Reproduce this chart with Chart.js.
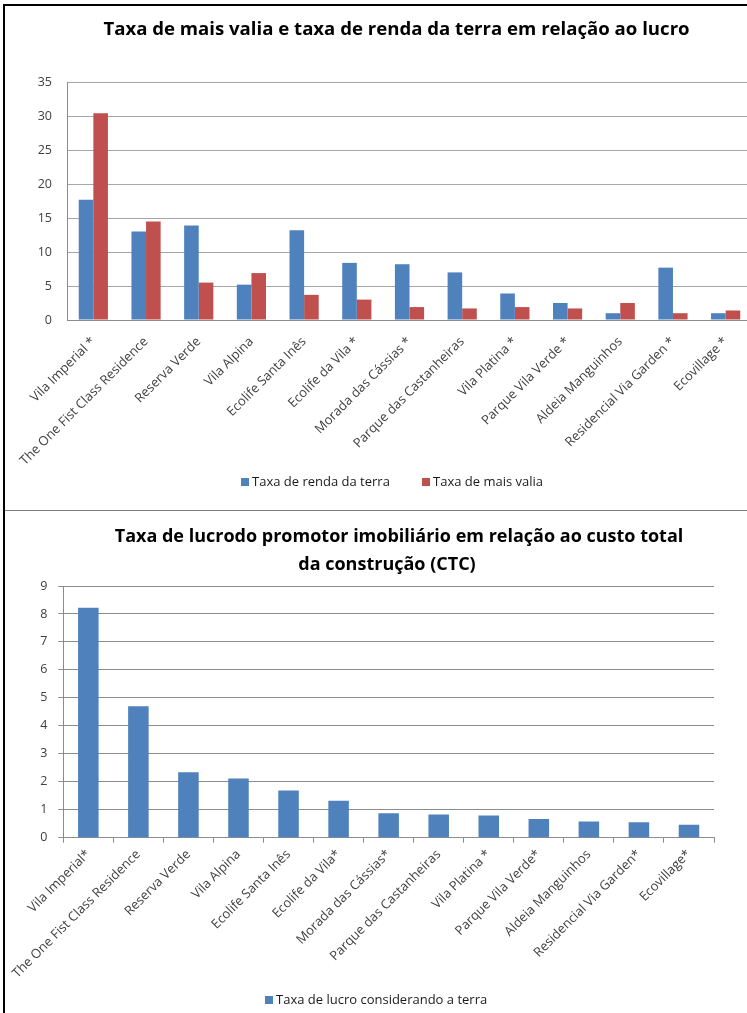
<!DOCTYPE html>
<html><head><meta charset="utf-8">
<script src="https://cdn.jsdelivr.net/npm/chart.js@4.4.1/dist/chart.umd.min.js"></script>
<style>
html,body{margin:0;padding:0;background:#fff;overflow:hidden;width:747px;height:1013px;}
#wrap{position:relative;width:747px;height:1013px;overflow:hidden;background:#fff;}
#c1box{position:absolute;left:0;top:0;width:760px;height:510px;}
#c2box{position:absolute;left:0;top:511px;width:747px;height:502px;}
.fl{position:absolute;background:#000;}
</style></head><body>
<div id="wrap">
<div id="c1box"><canvas id="c1" width="760" height="510"></canvas></div>
<div id="c2box"><canvas id="c2" width="747" height="502"></canvas></div>
<div class="fl" style="left:3px;top:4px;width:2px;height:1009px"></div>
<div class="fl" style="left:3px;top:4px;width:744px;height:2px"></div>
<div style="position:absolute;left:5px;top:510px;width:742px;height:1px;background:#7f7f7f"></div>
</div>
<script>
// ---------- data ----------
const categoriesTop = ["Vila Imperial *","The One Fist Class Residence","Reserva Verde","Vila Alpina","Ecolife Santa Inês","Ecolife da Vila *","Morada das Cássias *","Parque das Castanheiras","Vila Platina *","Parque Vila Verde *","Aldeia Manguinhos","Residencial Via Garden *","Ecovillage *"];
const rendaTerra = [17.7, 13.0, 13.9, 5.2, 13.2, 8.4, 8.2, 7.0, 3.9, 2.5, 1.0, 7.7, 1.0];
const maisValia  = [30.4, 14.5, 5.5, 6.9, 3.7, 3.0, 1.9, 1.7, 1.9, 1.7, 2.5, 1.0, 1.4];
const topSeriesNames = ["Taxa de renda da terra", "Taxa de mais valia"];
const topTitle = ["Taxa de mais valia e taxa de renda da terra em relação ao lucro"];
const topTicks = [0, 5, 10, 15, 20, 25, 30, 35];

const categoriesBottom = ["Vila Imperial*","The One Fist Class Residence","Reserva Verde","Vila Alpina","Ecolife Santa Inês","Ecolife da Vila*","Morada das Cássias*","Parque das Castanheiras","Vila Platina *","Parque Vila Verde*","Aldeia Manguinhos","Residencial Via Garden*","Ecovillage*"];
const taxaLucro = [8.22, 4.70, 2.34, 2.12, 1.69, 1.32, 0.87, 0.83, 0.79, 0.67, 0.58, 0.55, 0.46];
const bottomSeriesNames = ["Taxa de lucro considerando a terra"];
const bottomTitle = ["Taxa de lucrodo promotor imobiliário em relação ao custo total", "da construção (CTC)"];
const bottomTicks = [0, 1, 2, 3, 4, 5, 6, 7, 8, 9];

// ---------- styles ----------
const BLUE = '#4F81BD', RED = '#C0504D';
const FONT = '"Open Sans", Lato, sans-serif';

const decor = {
  id: 'decor',
  afterDraw(chart, args, o) {
    const ctx = chart.ctx;
    ctx.save();
    ctx.fillStyle = '#000';
    ctx.textBaseline = 'middle';
    ctx.textAlign = 'center';
    ctx.font = 'bold ' + o.titleSize + 'px ' + FONT;
    o.titleLines.forEach((t, i) => ctx.fillText(t, o.titleX[i], o.titleY[i]));
    ctx.font = o.legendSize + 'px ' + FONT;
    ctx.textAlign = 'left';
    chart.data.datasets.forEach((ds, i) => {
      ctx.fillStyle = ds.backgroundColor;
      ctx.fillRect(o.legendX[i], o.legendY - o.box / 2, o.box, o.box);
      ctx.fillStyle = '#1a1a1a';
      ctx.fillText(ds.label, o.legendX[i] + o.box + 3, o.legendY);
    });
    ctx.restore();
  }
};

function tickSet(values) {
  return (scale) => { scale.ticks = values.map(v => ({value: v})); };
}

new Chart(document.getElementById('c1'), {
  type: 'bar',
  data: {
    labels: categoriesTop,
    datasets: [
      {label: topSeriesNames[0], data: rendaTerra, backgroundColor: BLUE, categoryPercentage: 0.554, barPercentage: 1},
      {label: topSeriesNames[1], data: maisValia, backgroundColor: RED, categoryPercentage: 0.554, barPercentage: 1}
    ]
  },
  options: {
    responsive: false, animation: false, devicePixelRatio: 1,
    layout: {padding: {top: 82, right: 8, left: 0, bottom: 0}},
    plugins: {
      legend: {display: false}, title: {display: false}, tooltip: {enabled: false},
      decor: {titleLines: topTitle, titleX: [396.5], titleY: [30], titleSize: 18.6,
              legendX: [241, 422], legendY: 482, legendSize: 13, box: 8}
    },
    scales: {
      x: {
        grid: {display: false},
        border: {display: true, color: '#8c8c8c'},
        ticks: {minRotation: 45, maxRotation: 45, autoSkip: false, padding: 6,
                color: '#404040', font: {family: FONT, size: 13}},
        afterFit: s => { s.height = 190; }
      },
      y: {
        min: 0, max: 35,
        afterBuildTicks: tickSet(topTicks),
        grid: {color: '#a6a6a6', drawTicks: false},
        border: {display: true, color: '#8c8c8c'},
        ticks: {padding: 15, color: '#404040', font: {family: FONT, size: 12.5}},
        afterFit: s => { s.width = 67; }
      }
    }
  },
  plugins: [decor]
});

new Chart(document.getElementById('c2'), {
  type: 'bar',
  data: {
    labels: categoriesBottom,
    datasets: [
      {label: bottomSeriesNames[0], data: taxaLucro, backgroundColor: BLUE, categoryPercentage: 0.41, barPercentage: 1}
    ]
  },
  options: {
    responsive: false, animation: false, devicePixelRatio: 1,
    layout: {padding: {top: 75, right: 33, left: 0, bottom: 0}},
    plugins: {
      legend: {display: false}, title: {display: false}, tooltip: {enabled: false},
      decor: {titleLines: bottomTitle, titleX: [399, 387], titleY: [26, 54], titleSize: 18,
              legendX: [265], legendY: 489, legendSize: 13, box: 8}
    },
    scales: {
      x: {
        grid: {display: true, drawOnChartArea: false, drawTicks: true, tickLength: 5, offset: true, color: '#8c8c8c'},
        border: {display: true, color: '#8c8c8c'},
        ticks: {minRotation: 45, maxRotation: 45, autoSkip: false, padding: 4,
                color: '#404040', font: {family: FONT, size: 13}},
        afterFit: s => { s.height = 175.3; }
      },
      y: {
        min: 0, max: 9,
        afterBuildTicks: tickSet(bottomTicks),
        grid: {color: '#8c8c8c', drawTicks: true, tickLength: 5},
        border: {display: true, color: '#8c8c8c'},
        ticks: {padding: 11, color: '#404040', font: {family: FONT, size: 12.5}},
        afterFit: s => { s.width = 63.3; }
      }
    }
  },
  plugins: [decor]
});
</script>
</body></html>
